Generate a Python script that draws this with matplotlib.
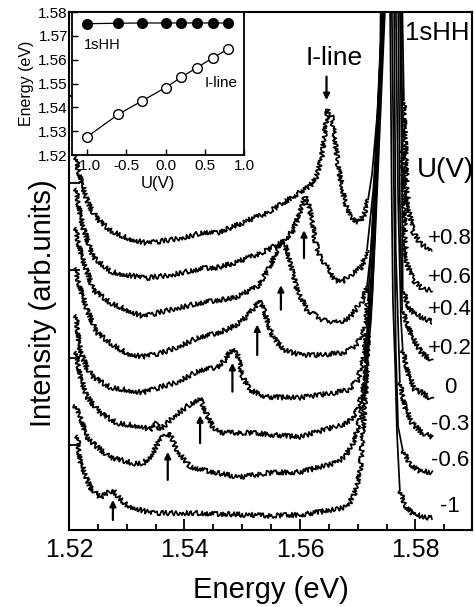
import matplotlib
matplotlib.use("Agg")
import matplotlib.pyplot as plt
from matplotlib.ticker import MultipleLocator, FormatStrFormatter

plt.rcParams['font.family'] = ['Liberation Sans', 'DejaVu Sans']
plt.rcParams['axes.unicode_minus'] = False

# ---- PL spectra, vertically offset, one per gate bias -----------------
bias_labels = ['+0.8', '+0.6', '+0.4', '+0.2', '0', '-0.3', '-0.6', '-1']

E_p08 = [1.5212, 1.5216, 1.5224, 1.5233, 1.5242, 1.5254, 1.5271, 1.5300, 1.5335, 1.5375,
         1.5401, 1.5435, 1.5456, 1.5484, 1.5513, 1.5543, 1.5571, 1.5600, 1.5617, 1.5629,
         1.5638, 1.5643, 1.5648, 1.5655, 1.5661, 1.5666, 1.5673, 1.5678, 1.5687, 1.5695,
         1.5704, 1.5713, 1.5718, 1.5725, 1.5730, 1.5735, 1.5739, 1.5740, 1.5756, 1.5777,
         1.5780, 1.5785, 1.5790, 1.5796, 1.5808, 1.5829]
I_p08 = [4.30, 4.15, 3.96, 3.77, 3.66, 3.56, 3.46, 3.37, 3.31, 3.35,
         3.38, 3.44, 3.43, 3.50, 3.58, 3.66, 3.77, 3.90, 3.96, 4.07,
         4.30, 4.57, 4.84, 4.76, 4.49, 4.20, 3.96, 3.77, 3.61, 3.56,
         3.56, 3.66, 3.81, 4.11, 4.49, 4.87, 5.41, 6.10, 8.00, 6.10,
         4.95, 3.92, 3.64, 3.44, 3.31, 3.23]

E_p06 = [1.5212, 1.5216, 1.5224, 1.5242, 1.5274, 1.5332, 1.5378, 1.5435, 1.5456, 1.5484,
         1.5513, 1.5543, 1.5571, 1.5588, 1.5600, 1.5609, 1.5614, 1.5621, 1.5626, 1.5635,
         1.5647, 1.5661, 1.5673, 1.5683, 1.5695, 1.5707, 1.5716, 1.5721, 1.5727, 1.5733,
         1.5739, 1.5742, 1.5757, 1.5775, 1.5778, 1.5782, 1.5785, 1.5796, 1.5813, 1.5829]
I_p06 = [3.94, 3.77, 3.50, 3.15, 2.98, 2.91, 2.95, 3.03, 3.03, 3.08,
         3.15, 3.23, 3.33, 3.46, 3.66, 3.84, 3.77, 3.58, 3.35, 3.15,
         3.04, 2.89, 2.87, 2.92, 2.98, 3.04, 3.23, 3.54, 3.92, 4.49,
         5.41, 6.10, 8.00, 6.10, 4.38, 3.35, 3.08, 2.89, 2.78, 2.78]

E_p04 = [1.5212, 1.5214, 1.5224, 1.5242, 1.5271, 1.5328, 1.5375, 1.5435, 1.5484, 1.5526,
         1.5548, 1.5565, 1.5574, 1.5583, 1.5595, 1.5612, 1.5640, 1.5669, 1.5687, 1.5709,
         1.5716, 1.5723, 1.5728, 1.5733, 1.5739, 1.5744, 1.5758, 1.5773, 1.5777, 1.5778,
         1.5790, 1.5808, 1.5829]
I_p04 = [3.49, 3.38, 3.12, 2.78, 2.63, 2.47, 2.55, 2.64, 2.68, 2.81,
         3.04, 3.31, 3.29, 3.08, 2.78, 2.55, 2.43, 2.40, 2.47, 2.66,
         2.81, 3.23, 3.81, 4.49, 5.41, 6.10, 8.00, 6.10, 3.81, 2.78,
         2.55, 2.47, 2.41]

E_p02 = [1.5212, 1.5214, 1.5231, 1.5248, 1.5271, 1.5300, 1.5328, 1.5358, 1.5387, 1.5427,
         1.5461, 1.5484, 1.5508, 1.5522, 1.5527, 1.5534, 1.5543, 1.5553, 1.5571, 1.5600,
         1.5629, 1.5669, 1.5687, 1.5700, 1.5713, 1.5718, 1.5725, 1.5732, 1.5739, 1.5746,
         1.5758, 1.5770, 1.5773, 1.5777, 1.5794, 1.5811, 1.5829]
I_p02 = [3.03, 2.92, 2.55, 2.29, 2.17, 2.05, 2.01, 2.05, 2.12, 2.24,
         2.29, 2.35, 2.47, 2.58, 2.66, 2.61, 2.43, 2.24, 2.09, 2.03,
         2.03, 2.05, 2.09, 2.17, 2.35, 2.66, 3.46, 4.49, 5.52, 6.10,
         8.00, 6.10, 3.81, 2.55, 2.24, 2.05, 1.97]

E_0 = [1.5212, 1.5219, 1.5231, 1.5242, 1.5271, 1.5328, 1.5387, 1.5427, 1.5456, 1.5470,
       1.5482, 1.5491, 1.5501, 1.5513, 1.5543, 1.5600, 1.5661, 1.5683, 1.5700, 1.5709,
       1.5716, 1.5723, 1.5730, 1.5737, 1.5747, 1.5757, 1.5766, 1.5770, 1.5775, 1.5778,
       1.5787, 1.5799, 1.5811, 1.5829]
I_0 = [2.49, 2.09, 1.88, 1.78, 1.66, 1.60, 1.72, 1.86, 1.89, 1.97,
       2.10, 2.05, 1.78, 1.63, 1.55, 1.54, 1.60, 1.63, 1.74, 1.97,
       2.29, 2.89, 3.81, 4.95, 6.10, 8.00, 6.10, 3.81, 2.43, 2.09,
       1.83, 1.63, 1.60, 1.52]

E_m03 = [1.5212, 1.5219, 1.5231, 1.5254, 1.5283, 1.5328, 1.5340, 1.5352, 1.5358, 1.5380,
         1.5404, 1.5427, 1.5439, 1.5449, 1.5461, 1.5513, 1.5600, 1.5661, 1.5683, 1.5700,
         1.5709, 1.5716, 1.5723, 1.5730, 1.5739, 1.5748, 1.5756, 1.5763, 1.5766, 1.5773,
         1.5782, 1.5794, 1.5811, 1.5829]
I_m03 = [2.07, 1.80, 1.55, 1.37, 1.25, 1.21, 1.17, 1.25, 1.17, 1.32,
         1.44, 1.54, 1.34, 1.21, 1.14, 1.14, 1.09, 1.21, 1.25, 1.40,
         1.63, 1.89, 2.43, 3.35, 4.72, 6.10, 8.00, 6.10, 3.23, 1.72,
         1.44, 1.25, 1.14, 1.09]

E_m06 = [1.5209, 1.5219, 1.5231, 1.5248, 1.5271, 1.5311, 1.5328, 1.5340, 1.5358, 1.5370,
         1.5378, 1.5387, 1.5410, 1.5456, 1.5496, 1.5543, 1.5600, 1.5661, 1.5678, 1.5695,
         1.5707, 1.5713, 1.5718, 1.5725, 1.5733, 1.5742, 1.5747, 1.5755, 1.5759, 1.5763,
         1.5766, 1.5770, 1.5778, 1.5790, 1.5804, 1.5829]
I_m06 = [1.46, 1.34, 1.09, 0.98, 0.86, 0.79, 0.79, 0.86, 1.06, 1.14,
         1.08, 0.94, 0.75, 0.68, 0.63, 0.68, 0.69, 0.79, 0.86, 1.06,
         1.40, 1.72, 2.20, 3.00, 4.38, 5.41, 6.10, 8.00, 6.10, 3.81,
         2.09, 1.21, 0.94, 0.79, 0.71, 0.68]

E_m10 = [1.5214, 1.5216, 1.5219, 1.5228, 1.5236, 1.5254, 1.5266, 1.5276, 1.5288, 1.5300,
         1.5340, 1.5427, 1.5543, 1.5600, 1.5661, 1.5683, 1.5695, 1.5704, 1.5709, 1.5713,
         1.5718, 1.5725, 1.5732, 1.5739, 1.5745, 1.5753, 1.5756, 1.5759, 1.5761, 1.5765,
         1.5768, 1.5773, 1.5782, 1.5794, 1.5811, 1.5829]
I_m10 = [1.11, 1.02, 0.83, 0.66, 0.52, 0.40, 0.45, 0.48, 0.39, 0.31,
         0.22, 0.22, 0.19, 0.20, 0.26, 0.29, 0.45, 0.68, 1.14, 1.52,
         2.29, 2.66, 3.81, 5.18, 6.10, 8.00, 6.10, 3.81, 2.66, 1.89,
         1.14, 0.48, 0.31, 0.22, 0.18, 0.16]

spectra = [(E_p08, I_p08), (E_p06, I_p06), (E_p04, I_p04), (E_p02, I_p02),
           (E_0, I_0), (E_m03, I_m03), (E_m06, I_m06), (E_m10, I_m10)]

# ---- peak positions vs bias (inset) ------------------------------------
U_bias = [-1.0, -0.6, -0.3, 0.0, 0.2, 0.4, 0.6, 0.8]
E_1sHH = [1.5751, 1.5753, 1.5754, 1.5754, 1.5754, 1.5754, 1.5754, 1.5754]
E_Iline = [1.5276, 1.5371, 1.5427, 1.5483, 1.5526, 1.5567, 1.5607, 1.5646]

# arrow marking the I-line in each spectrum (start -> head, arb. units),
# listed in the same top-to-bottom order as the spectra
arrow_start = [5.22, 3.14, 2.55, 2.03, 1.61, 1.02, 0.60, 0.14]
arrow_head = [4.95, 3.46, 2.83, 2.38, 1.94, 1.34, 0.92, 0.37]

# energy window of the strong, steep 1sHH line (drawn without trace noise)
HH_window = (1.5716, 1.5781)

fig = plt.figure(figsize=(4.74, 6.07), dpi=100)
ax = fig.add_axes([0.1456, 0.1269, 0.8502, 0.8534])


def draw_trace(E, I):
    lo, hi = HH_window
    i0 = next(i for i, e in enumerate(E) if e >= lo)
    i1 = max(i for i, e in enumerate(E) if e <= hi)
    pieces = [(E[:i0 + 1], I[:i0 + 1], True),
              (E[i0:i1 + 1], I[i0:i1 + 1], False),
              (E[i1:], I[i1:], True)]
    for xs, ys, noisy in pieces:
        ln, = ax.plot(xs, ys, color='black', lw=1.25,
                      solid_joinstyle='round', solid_capstyle='round')
        if noisy:
            # measurement noise look of the scanned traces
            ln.set_sketch_params(scale=2.4, length=3.0, randomness=3.0)


for (E, I), lab in zip(spectra, bias_labels):
    draw_trace(E, I)
    ax.text(1.5860, I[-1] + 0.14, lab, fontsize=16, ha='center', va='center')

E_arrows = list(reversed(E_Iline))
for e, y0, y1 in zip(E_arrows, arrow_start, arrow_head):
    ax.annotate('', xy=(e, y1), xytext=(e, y0),
                arrowprops=dict(arrowstyle='-|>', color='black', lw=1.6,
                                mutation_scale=9, shrinkA=0, shrinkB=0))

ax.text(1.5659, 5.43, 'I-line', fontsize=19, ha='center', va='center')
ax.text(1.5782, 5.72, '1sHH', fontsize=18.5, ha='left', va='center')
ax.text(1.5803, 4.15, 'U(V)', fontsize=20, ha='left', va='center')

ax.set_xlim(1.52, 1.5898)
ax.set_ylim(0.026, 5.96)
ax.set_xticks([1.52, 1.54, 1.56, 1.58])
ax.xaxis.set_major_formatter(FormatStrFormatter('%.2f'))
ax.xaxis.set_minor_locator(MultipleLocator(0.005))
ax.set_yticks([1, 2, 3, 4, 5])
ax.set_yticklabels([])
ax.tick_params(which='both', direction='in', top=False, right=False, width=1.3,
               labelsize=18, pad=6)
ax.tick_params(which='major', length=8)
ax.tick_params(which='minor', length=4)
for s in ax.spines.values():
    s.set_linewidth(1.5)
ax.set_xlabel('Energy (eV)', fontsize=21, labelpad=10)
ax.set_ylabel('Intensity (arb.units)', fontsize=21)
ax.yaxis.set_label_coords(-0.03, 0.438)

# ---- inset: peak energies vs bias ---------------------------------------
axin = fig.add_axes([0.152, 0.7446, 0.363, 0.2356])
axin.plot(U_bias, E_1sHH, '-o', color='black', lw=0.9, ms=7, mfc='black')
axin.plot(U_bias, E_Iline, '-o', color='black', lw=0.9, ms=7, mfc='white', mew=1.0)
axin.text(-0.81, 1.5662, '1sHH', fontsize=10.5, ha='center', va='center')
axin.text(0.708, 1.5502, 'I-line', fontsize=11, ha='center', va='center')
axin.set_xlim(-1.19, 1.0)
axin.set_ylim(1.52, 1.58)
axin.set_xticks([-1.0, -0.5, 0.0, 0.5, 1.0])
axin.xaxis.set_major_formatter(FormatStrFormatter('%.1f'))
axin.set_yticks([1.52, 1.53, 1.54, 1.55, 1.56, 1.57, 1.58])
axin.yaxis.set_major_formatter(FormatStrFormatter('%.2f'))
axin.tick_params(direction='in', length=4, width=1.0, labelsize=11, pad=3)
for s in axin.spines.values():
    s.set_linewidth(1.3)
axin.set_xlabel('U(V)', fontsize=12, labelpad=2)
axin.set_ylabel('Energy (eV)', fontsize=11.5, labelpad=3)

fig.savefig('out.png', dpi=100)
